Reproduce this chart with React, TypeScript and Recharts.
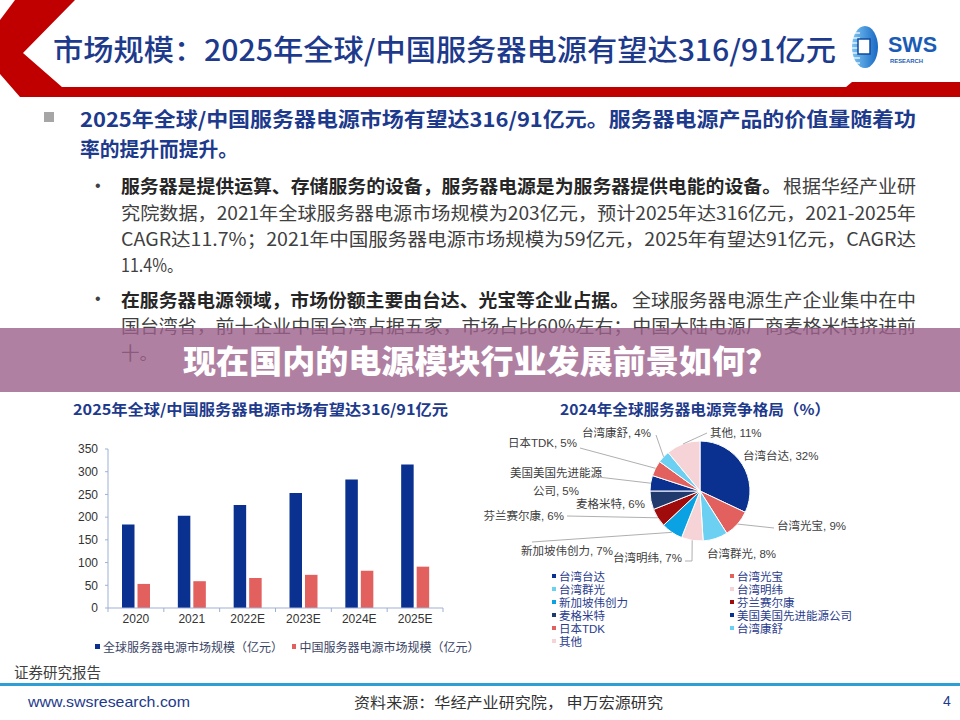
import React from "react";
import { BarChart, Bar, XAxis, YAxis, Legend, PieChart, Pie, Cell } from "recharts";

// bar chart data
const years = ["2020", "2021", "2022E", "2023E", "2024E", "2025E"];
const globalMarket = [184, 203, 227, 253, 283, 316];
const chinaMarket = [53, 59, 66, 73, 82, 91];
const yTicks = [0, 50, 100, 150, 200, 250, 300, 350];
const barSeriesNames = ["全球服务器电源市场规模（亿元）", "中国服务器电源市场规模（亿元）"];

// pie chart data
const vendors = [
  "台湾台达",
  "台湾光宝",
  "台湾群光",
  "台湾明纬",
  "新加坡伟创力",
  "芬兰赛尔康",
  "麦格米特",
  "美国美国先进能源公司",
  "日本TDK",
  "台湾康舒",
  "其他",
];
const vendorShares = [32, 9, 8, 7, 7, 6, 6, 5, 5, 4, 11];

const NAVY = "#0b3190";
const CORAL = "#e2605e";
const vendorColors = [
  NAVY,
  CORAL,
  "#6cd0f2",
  "#f6d3d6",
  "#0aa2e2",
  "#a00c0c",
  "#213a6e",
  NAVY,
  CORAL,
  "#6cd0f2",
  "#f6d3d6",
];

const barData = years.map((y, i) => ({
  year: y,
  global: globalMarket[i],
  china: chinaMarket[i],
}));
const pieData = vendors.map((v, i) => ({ name: v, value: vendorShares[i] }));

const CJK = "'Noto Sans CJK SC', 'Liberation Sans', sans-serif";
const LATIN = "'Liberation Sans', 'Noto Sans CJK SC', sans-serif";
const TITLE_BLUE = "#1d3a8c";

// label placement around the pie, offsets from the pie centre
const LABEL_LAYOUT: any[] = [
  { tx: 43, ty: -35, anchor: "start" },
  { tx: 77, ty: 35, anchor: "start", line: [[74, 37]] },
  { tx: 7, ty: 63, anchor: "start" },
  { tx: -18, ty: 67, anchor: "end", line: [[-8, 70], [-15, 70]] },
  { tx: -87, ty: 60, anchor: "end", line: [[-168, 51]] },
  { tx: -136, ty: 25, anchor: "end", line: [[-133, 25]] },
  { tx: -55, ty: 13, anchor: "end" },
  { tx: -144, ty: -18, anchor: "middle", line: [[-102, -14]], lines: ["美国美国先进能源", "公司, 5%"] },
  { tx: -123, ty: -48, anchor: "end", line: [[-120, -43]] },
  { tx: -49, ty: -58, anchor: "end", line: [[-44, -56]] },
  { tx: 10, ty: -58, anchor: "start", line: [[7, -58]] },
];

const RAD = Math.PI / 180;

function renderPieLabel(props: any) {
  const { cx, cy, midAngle, outerRadius, index, name, value } = props;
  const lay = LABEL_LAYOUT[index];
  const ex = cx + outerRadius * Math.cos(-midAngle * RAD);
  const ey = cy + outerRadius * Math.sin(-midAngle * RAD);
  const pts = lay.line
    ? [[ex, ey], ...lay.line.map((p: number[]) => [cx + p[0], cy + p[1]])]
    : null;
  const lines: string[] = lay.lines || [`${name}, ${value}%`];
  return (
    <g key={`lab-${index}`}>
      {pts && (
        <polyline
          points={pts.map((p) => p.join(",")).join(" ")}
          fill="none"
          stroke="#a6a6a6"
          strokeWidth={0.9}
        />
      )}
      {lines.map((t, k) => (
        <text
          key={k}
          x={cx + lay.tx}
          y={cy + lay.ty + k * 18}
          textAnchor={lay.anchor}
          dominantBaseline="central"
          fontSize={11.5}
          fontFamily={LATIN}
          fill="#404040"
        >
          {t}
        </text>
      ))}
    </g>
  );
}

function renderPieLegend(props: any) {
  const items = [...(props.payload || [])].sort(
    (a: any, b: any) => vendors.indexOf(a.value) - vendors.indexOf(b.value)
  );
  return (
    <div style={{ display: "grid", gridTemplateColumns: "178px 180px" }}>
      {items.map((p: any, i: number) => (
        <div
          key={i}
          style={{
            height: 12.9,
            display: "flex",
            alignItems: "center",
            fontSize: 11.5,
            fontFamily: LATIN,
            color: "#2a3c8e",
            whiteSpace: "nowrap",
          }}
        >
          <span
            style={{
              width: 4,
              height: 4,
              background: vendorColors[vendors.indexOf(p.value)],
              marginRight: 3,
              display: "inline-block",
            }}
          />
          {p.value}
        </div>
      ))}
    </div>
  );
}

function renderBarLegend() {
  const colors = [NAVY, CORAL];
  return (
    <div style={{ display: "flex", fontSize: 12, fontFamily: LATIN, color: "#3a4466" }}>
      {barSeriesNames.map((n, i) => (
        <div key={n} style={{ display: "flex", alignItems: "center", marginRight: i === 0 ? 13 : 0 }}>
          <span
            style={{ width: 5, height: 5, background: colors[i], marginRight: 3, display: "inline-block" }}
          />
          {n}
        </div>
      ))}
    </div>
  );
}

const BAR_W = 470;
const BAR_H = 270;
const BAR_MARGIN = { top: 59, right: 27, bottom: 22, left: 0 };
const Y_AXIS_W = 108;
const HALF_BAND = (BAR_W - BAR_MARGIN.right - BAR_MARGIN.left - Y_AXIS_W) / years.length / 2;
const AXIS_COLOR = "#9fb0d4";

function XTick(props: any) {
  const { x, y, payload, index } = props;
  return (
    <g>
      <line x1={x + HALF_BAND} x2={x + HALF_BAND} y1={y - 6} y2={y - 2} stroke={AXIS_COLOR} />
      {index === 0 && <line x1={x - HALF_BAND} x2={x - HALF_BAND} y1={y - 6} y2={y - 2} stroke={AXIS_COLOR} />}
      <text x={x} y={y} dy="0.71em" textAnchor="middle" fontSize={12} fontFamily={LATIN} fill="#333">
        {payload.value}
      </text>
    </g>
  );
}

type Seg = { t: string; x0: number; x1: number; bold?: boolean };
const HEAD_LINES: { y: number; segs: Seg[] }[] = [
  { y: 118, segs: [{ t: "2025年全球/中国服务器电源市场有望达316/91亿元。服务器电源产品的价值量随着功", x0: 80, x1: 916 }] },
  { y: 148, segs: [{ t: "率的提升而提升。", x0: 80, x1: 238 }] },
];
const BODY_LINES: { y: number; segs: Seg[] }[] = [
  {
    y: 185,
    segs: [
      { t: "服务器是提供运算、存储服务的设备，服务器电源是为服务器提供电能的设备。", x0: 121, x1: 781, bold: true },
      { t: "根据华经产业研", x0: 783, x1: 916 },
    ],
  },
  { y: 211.5, segs: [{ t: "究院数据，2021年全球服务器电源市场规模为203亿元，预计2025年达316亿元，2021-2025年", x0: 121, x1: 916 }] },
  { y: 238, segs: [{ t: "CAGR达11.7%；2021年中国服务器电源市场规模为59亿元，2025年有望达91亿元，CAGR达", x0: 121, x1: 916 }] },
  { y: 263.5, segs: [{ t: "11.4%。", x0: 121, x1: 183 }] },
  {
    y: 298.5,
    segs: [
      { t: "在服务器电源领域，市场份额主要由台达、光宝等企业占据。", x0: 121, x1: 629, bold: true },
      { t: "全球服务器电源生产企业集中在中", x0: 632, x1: 916 },
    ],
  },
  { y: 325, segs: [{ t: "国台湾省，前十企业中国台湾占据五家，市场占比60%左右；中国大陆电源厂商麦格米特挤进前", x0: 121, x1: 916 }] },
  { y: 352, segs: [{ t: "十。", x0: 121, x1: 158 }] },
];

function Fit({ x0, x1, y, t, size, weight, color, family, anchor }: any) {
  return (
    <text
      x={x0}
      y={y}
      fontSize={size}
      fontWeight={weight}
      fill={color}
      fontFamily={family}
      textLength={x1 - x0}
      lengthAdjust="spacingAndGlyphs"
      dominantBaseline="central"
      textAnchor={anchor || "start"}
    >
      {t}
    </text>
  );
}

function SlideBase() {
  return (
    <svg width={960} height={720} style={{ position: "absolute", left: 0, top: 0 }}>
      {/* header frame */}
      <polygon
        points="15,0 75,0 23,53 62,87 846,87 852,82 960,82 960,97 20,97 0,74 0,20"
        fill="#c00000"
      />
      <Fit x0={53} x1={836} y={48} t="市场规模：2025年全球/中国服务器电源有望达316/91亿元" size={29} weight={500} color={TITLE_BLUE} family={CJK} />
      {/* logo */}
      <defs>
        <linearGradient id="logoG" x1="0" y1="0" x2="1" y2="0">
          <stop offset="0%" stopColor="#7cc4f2" />
          <stop offset="100%" stopColor="#1769c4" />
        </linearGradient>
      </defs>
      <ellipse cx={865} cy={47} rx={13} ry={21} fill="url(#logoG)" />
      {[33, 38, 43, 48, 53, 58, 63].map((yy) => (
        <line key={yy} x1={851} x2={860} y1={yy} y2={yy} stroke="#fff" strokeWidth={1.2} />
      ))}
      <rect x={858} y={39} width={12} height={15} fill="#fff" stroke="#0e4aa0" strokeWidth={1.5} />
      <text x={888} y={44} fontSize={22} fontWeight={700} fill="#1a5cb5" fontFamily={LATIN} dominantBaseline="central" textLength={49} lengthAdjust="spacingAndGlyphs">SWS</text>
      <text x={890} y={61} fontSize={6} fontWeight={700} fill="#1a5cb5" fontFamily={LATIN} dominantBaseline="central" textLength={33} lengthAdjust="spacingAndGlyphs">RESEARCH</text>

      {/* bullets */}
      <rect x={44} y={112} width={10} height={10} fill="#a6a6a6" />
      {HEAD_LINES.map((l, i) =>
        l.segs.map((s, j) => (
          <Fit key={`h${i}${j}`} x0={s.x0} x1={s.x1} y={l.y} t={s.t} size={20} weight={700} color={TITLE_BLUE} family={CJK} />
        ))
      )}
      <text x={95} y={185} fontSize={16} fill="#404040" fontFamily={LATIN} dominantBaseline="central">•</text>
      <text x={95} y={298.5} fontSize={16} fill="#404040" fontFamily={LATIN} dominantBaseline="central">•</text>
      {BODY_LINES.map((l, i) =>
        l.segs.map((s, j) => (
          <Fit
            key={`b${i}${j}`}
            x0={s.x0}
            x1={s.x1}
            y={l.y}
            t={s.t}
            size={18}
            weight={s.bold ? 700 : 400}
            color={s.bold ? "#262626" : "#404040"}
            family={CJK}
          />
        ))
      )}

      {/* chart titles */}
      <Fit x0={73} x1={448} y={408} t="2025年全球/中国服务器电源市场有望达316/91亿元" size={15} weight={700} color={TITLE_BLUE} family={CJK} />
      <Fit x0={560} x1={830} y={408} t="2024年全球服务器电源竞争格局（%）" size={15} weight={700} color={TITLE_BLUE} family={CJK} />

      {/* footer */}
      <Fit x0={14} x1={101} y={671} t="证券研究报告" size={14.5} weight={400} color="#404040" family={CJK} />
      <line x1={0} x2={960} y1={684.5} y2={684.5} stroke="#2d9fd5" strokeWidth={3} />
      <Fit x0={28} x1={190} y={701} t="www.swsresearch.com" size={15} weight={400} color="#1d3a8c" family={LATIN} />
      <Fit x0={354} x1={663} y={701} t="资料来源：华经产业研究院， 申万宏源研究" size={15} weight={400} color="#333" family={CJK} />
      <text x={947} y={701} fontSize={14} fill="#1d3a8c" fontFamily={LATIN} dominantBaseline="central" textAnchor="middle">4</text>
    </svg>
  );
}

function Overlay() {
  return (
    <svg width={960} height={720} style={{ position: "absolute", left: 0, top: 0, pointerEvents: "none" }}>
      <rect x={0} y={328} width={960} height={64} fill="rgba(156,96,139,0.8)" />
      <Fit x0={183} x1={778} y={359} t="现在国内的电源模块行业发展前景如何？" size={32} weight={900} color="#fff" family={CJK} />
    </svg>
  );
}

export default function App() {
  return (
    <div style={{ position: "absolute", left: 0, top: 0, width: 960, height: 720, background: "#fff", overflow: "hidden" }}>
      <SlideBase />
      <div style={{ position: "absolute", left: 0, top: 390 }}>
        <BarChart width={BAR_W} height={BAR_H} data={barData} margin={BAR_MARGIN} barSize={12.5} barGap={3}>
          <XAxis
            dataKey="year"
            axisLine={{ stroke: AXIS_COLOR }}
            tickLine={false}
            tickSize={4}
            tickMargin={2}
            interval={0}
            tick={<XTick />}
          />
          <YAxis
            width={Y_AXIS_W}
            domain={[0, 350]}
            ticks={yTicks}
            interval={0}
            axisLine={{ stroke: AXIS_COLOR }}
            tickLine={{ stroke: AXIS_COLOR }}
            tickSize={3}
            tickMargin={7}
            tick={{ fill: "#333", fontSize: 12, fontFamily: LATIN }}
          />
          <Legend
            layout="horizontal"
            verticalAlign="middle"
            align="center"
            wrapperStyle={{ top: 248, left: 95, width: 380 }}
            content={renderBarLegend}
          />
          <Bar dataKey="global" name={barSeriesNames[0]} fill={NAVY} isAnimationActive={false} />
          <Bar dataKey="china" name={barSeriesNames[1]} fill={CORAL} isAnimationActive={false} />
        </BarChart>
      </div>
      <div style={{ position: "absolute", left: 480, top: 390 }}>
        <PieChart width={440} height={270} margin={{ top: 0, right: 0, bottom: 0, left: 0 }}>
          <Pie
            data={pieData}
            dataKey="value"
            nameKey="name"
            cx={220}
            cy={101}
            outerRadius={50}
            startAngle={90}
            endAngle={-270}
            stroke="#fff"
            strokeWidth={1}
            label={renderPieLabel}
            labelLine={false}
            isAnimationActive={false}
          >
            {pieData.map((d, i) => (
              <Cell key={d.name} fill={vendorColors[i]} />
            ))}
          </Pie>
          <Legend
            layout="horizontal"
            verticalAlign="middle"
            align="center"
            wrapperStyle={{ top: 180, left: 72, width: 360 }}
            content={renderPieLegend}
          />
        </PieChart>
      </div>
      <Overlay />
    </div>
  );
}
